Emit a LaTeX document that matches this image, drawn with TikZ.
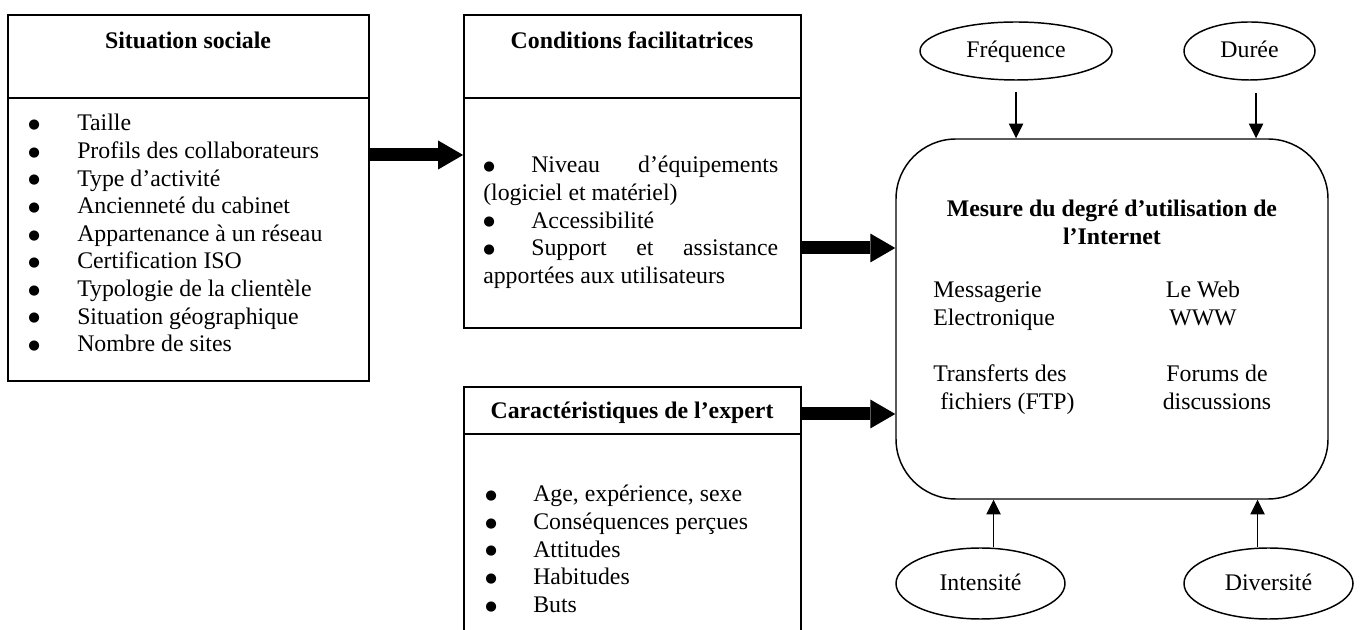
\documentclass[tikz,border=0pt]{standalone}
\usepackage{fontspec}
\setmainfont{Liberation Serif}
\newfontfamily\dvfont{DejaVu Sans}
\usetikzlibrary{arrows.meta,shapes.geometric}
\newcommand\blt{\raisebox{1.7pt}{\dvfont\fontsize{10pt}{12pt}\selectfont ●}}
\begin{document}
\begin{tikzpicture}[x=0.75pt,y=-0.75pt,
  txt/.style={inner sep=0pt, font=\fontsize{17.85pt}{20.7pt}\selectfont},
  ttl/.style={inner sep=0pt, font=\fontsize{17.85pt}{20.7pt}\selectfont\bfseries},
  boxnode/.style={draw, line width=1.3pt, rectangle, inner sep=0pt},
  divider/.style={line width=1.3pt},
  oval/.style={draw, ellipse, line width=1.1pt, inner sep=0pt, text depth=0.2em, font=\fontsize{17.85pt}{20.7pt}\selectfont},
  mesurebox/.style={draw, rectangle, rounded corners=45pt, line width=1.1pt, inner sep=0pt},
  bigarrow/.style={line width=9.75pt, -{Triangle[length=18.75pt,width=21.75pt,line width=0pt]}},
  thinarrow/.style={line width=1.1pt, -{Triangle[length=11pt,width=11pt,line width=0pt]}},
]
\useasboundingbox (0,0) rectangle (1361,630);

% Situation sociale
\node[boxnode, minimum width=270.75pt, minimum height=274.5pt] (sit) at (188.5,198) {};
\draw[divider] (sit.west |- 0,98) -- (sit.east |- 0,98);
\node[ttl, anchor=base] (sittitle) at (188,49) {Situation sociale};
\node[txt, anchor=base west] (sitlist) at (28,131) {\begin{tabular}[t]{@{}p{36.75pt}@{}l@{}}
\blt & Taille\\
\blt & Profils des collaborateurs\\
\blt & Type d’activité\\
\blt & Ancienneté du cabinet\\
\blt & Appartenance à un réseau\\
\blt & Certification ISO\\
\blt & Typologie de la clientèle\\
\blt & Situation géographique\\
\blt & Nombre de sites
\end{tabular}};

% Conditions facilitatrices
\node[boxnode, minimum width=252.75pt, minimum height=234.75pt] (cond) at (632.5,171.5) {};
\draw[divider] (cond.west |- 0,98) -- (cond.east |- 0,98);
\node[ttl, anchor=base] (condtitle) at (632,49) {Conditions facilitatrices};
\node[txt, anchor=base west] (condlist) at (483,173) {\begin{tabular}[t]{@{}l@{}}
\makebox[221.25pt][l]{\makebox[36pt][l]{\blt}Niveau\hfill d’équipements}\\
(logiciel et matériel)\\
\makebox[36pt][l]{\blt}Accessibilité\\
\makebox[221.25pt][l]{\makebox[36pt][l]{\blt}Support\hfill et\hfill assistance}\\
apportées aux utilisateurs
\end{tabular}};

% Caracteristiques de l'expert
\node[boxnode, minimum width=252.75pt, minimum height=204.75pt] (exp) at (632.5,523.5) {};
\draw[divider] (exp.west |- 0,434) -- (exp.east |- 0,434);
\node[ttl, anchor=base] (exptitle) at (632,419) {Caractéristiques de l’expert};
\node[txt, anchor=base west] (explist) at (485,502) {\begin{tabular}[t]{@{}p{36pt}@{}l@{}}
\blt & Age, expérience, sexe\\
\blt & Conséquences perçues\\
\blt & Attitudes\\
\blt & Habitudes\\
\blt & Buts
\end{tabular}};

% Mesure
\node[mesurebox, minimum width=324pt, minimum height=270pt] (mes) at (1112,319) {};
\node[ttl, anchor=base] (mestitle) at (1112,216.7) {\begin{tabular}[t]{@{}c@{}}Mesure du degré d’utilisation de\\ l’Internet\end{tabular}};
\node[txt, anchor=base west] (messag) at (933,297.7) {\begin{tabular}[t]{@{}l@{}}Messagerie\\ Electronique\end{tabular}};
\node[txt, anchor=base west] (ftp) at (933,381.7) {\begin{tabular}[t]{@{}l@{}}Transferts des\\ \hspace{5.25pt}fichiers (FTP)\end{tabular}};
\node[txt, anchor=base] (web) at (1203,297.7) {\begin{tabular}[t]{@{}c@{}}Le Web\\ WWW\end{tabular}};
\node[txt, anchor=base] (forum) at (1217,381.7) {\begin{tabular}[t]{@{}c@{}}Forums de\\ discussions\end{tabular}};

% Ellipses
\node[oval, minimum width=144pt, minimum height=43.5pt] (freq) at (1016,51) {Fréquence};
\node[oval, minimum width=98.25pt, minimum height=43.5pt] (duree) at (1249.5,51) {Durée};
\node[oval, minimum width=126.75pt, minimum height=53.25pt] (intens) at (980.5,583.5) {Intensité};
\node[oval, minimum width=126.75pt, minimum height=53.25pt] (divers) at (1268.5,583.5) {Diversité};

% thin arrows
\coordinate (fA) at ([yshift=-8.25pt]freq.south);
\coordinate (dA) at ([xshift=4.9pt,yshift=-9pt]duree.south);
\coordinate (iA) at ([xshift=9.75pt]intens.north);
\coordinate (vA) at ([xshift=-8.25pt]divers.north);
\draw[thinarrow] (fA) -- (fA |- mes.north);
\draw[thinarrow] (dA) -- (dA |- mes.north);
\draw[thinarrow] (iA) -- (iA |- mes.south);
\draw[thinarrow] (vA) -- (vA |- mes.south);

% big arrows
\coordinate (yA) at (0,155);
\coordinate (yB) at (0,248);
\coordinate (yC) at (0,414);
\draw[bigarrow] (sit.east |- yA) -- (cond.west |- yA);
\draw[bigarrow] (cond.east |- yB) -- (mes.west |- yB);
\draw[bigarrow] (exp.east |- yC) -- (mes.west |- yC);
\end{tikzpicture}
\end{document}
